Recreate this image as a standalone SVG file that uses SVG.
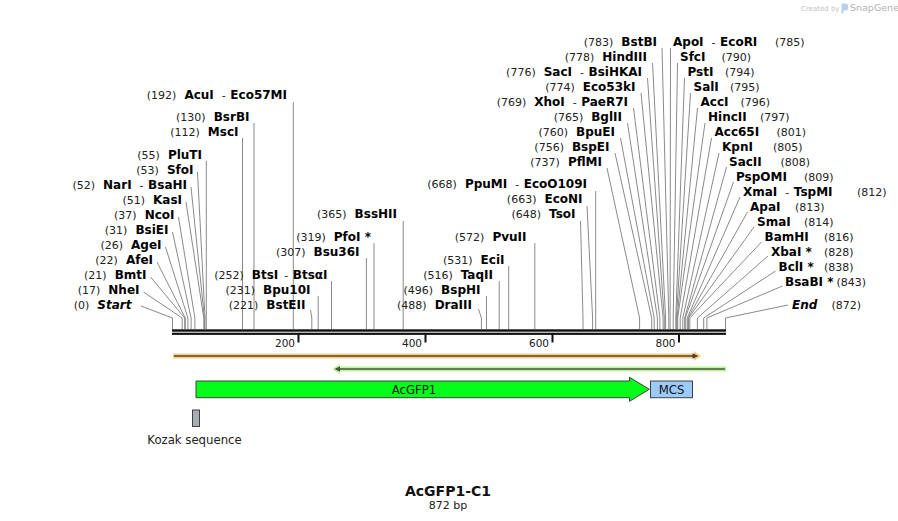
<svg xmlns="http://www.w3.org/2000/svg" width="898" height="521" viewBox="0 0 898 521">
<style>
text{font-family:"DejaVu Sans",Verdana,"Liberation Sans",sans-serif;}
.l{font-size:11px;fill:#222}
.b{font-size:12px;font-weight:bold;fill:#000}
.i{font-style:italic}
.e{text-anchor:end}
.ld{fill:none;stroke:#8a8a8a;stroke-width:1}
.tk{font-size:10.5px;fill:#222;text-anchor:end}
.ft{font-size:11.7px;fill:#111;text-anchor:middle}
.fs{stroke:#404040;stroke-width:1}
</style>
<rect width="898" height="521" fill="#fff"/>
<g id="logo">
<text x="801" y="10.5" style="font-size:7px;fill:#c4c4c4">Created by</text>
<path d="M841.5,3.5 h4 a2.5,2.5 0 0 1 2.5,2.5 v2 a2.5,2.5 0 0 1 -2.5,2.5 h-2 v3 h-2 z" fill="#b4d0ea"/>
<text x="850" y="11" style="font-size:9.5px;fill:#b0b0b0">SnapGene</text>
</g>
<g id="connectors">
<polyline class="ld" points="141,306 172.5,318 172.5,329"/>
<polyline class="ld" points="143.5,292 182.2,318 182.2,329"/>
<polyline class="ld" points="150.5,277 184.7,318 184.7,329"/>
<polyline class="ld" points="157,262 185.3,318 185.3,329"/>
<polyline class="ld" points="165.5,247 187.9,318 187.9,329"/>
<polyline class="ld" points="172.5,232 191.1,318 191.1,329"/>
<polyline class="ld" points="178.5,217 194.9,318 194.9,329"/>
<polyline class="ld" points="186,202 203.8,318 203.8,329"/>
<polyline class="ld" points="191,187 204.4,318 204.4,329"/>
<polyline class="ld" points="197.5,172 205,318 205,329"/>
<polyline class="ld" points="206.3,161 206.3,329"/>
<polyline class="ld" points="242.5,138 242.5,329"/>
<polyline class="ld" points="254,123 254,329"/>
<polyline class="ld" points="293.3,102 293.3,329"/>
<polyline class="ld" points="310.5,310 311.8,318 311.8,329"/>
<polyline class="ld" points="318.2,296 318.2,329"/>
<polyline class="ld" points="331.5,281 331.5,329"/>
<polyline class="ld" points="366.4,258 366.4,329"/>
<polyline class="ld" points="374,243 374,329"/>
<polyline class="ld" points="403.2,221 403.2,329"/>
<polyline class="ld" points="478.5,309 481.4,318 481.4,329"/>
<polyline class="ld" points="486.5,296 486.5,329"/>
<polyline class="ld" points="499.2,281 499.2,329"/>
<polyline class="ld" points="508.7,266 508.7,329"/>
<polyline class="ld" points="534.8,243 534.8,329"/>
<polyline class="ld" points="580.5,221 583,318 583,329"/>
<polyline class="ld" points="587,206 592.6,318 592.6,329"/>
<polyline class="ld" points="595.7,191 595.7,329"/>
<polyline class="ld" points="662,48 668.8,318 668.8,329"/>
<polyline class="ld" points="652.5,63 665.6,318 665.6,329"/>
<polyline class="ld" points="647.5,78 664.3,318 664.3,329"/>
<polyline class="ld" points="641,93 663.1,318 663.1,329"/>
<polyline class="ld" points="633.5,108 659.9,318 659.9,329"/>
<polyline class="ld" points="627.5,123 657.4,318 657.4,329"/>
<polyline class="ld" points="620.5,138 654.2,318 654.2,329"/>
<polyline class="ld" points="615,153 651.7,318 651.7,329"/>
<polyline class="ld" points="607,168 639.6,318 639.6,329"/>
<polyline class="ld" points="670.5,48 670.1,318 670.1,329"/>
<polyline class="ld" points="677.5,63 673.2,318 673.2,329"/>
<polyline class="ld" points="684.5,78 675.8,318 675.8,329"/>
<polyline class="ld" points="690.5,93 676.4,318 676.4,329"/>
<polyline class="ld" points="697.5,108 677.1,318 677.1,329"/>
<polyline class="ld" points="705,123 677.7,318 677.7,329"/>
<polyline class="ld" points="711.5,138 680.2,318 680.2,329"/>
<polyline class="ld" points="719,153 682.8,318 682.8,329"/>
<polyline class="ld" points="726.5,167 684.7,318 684.7,329"/>
<polyline class="ld" points="733.5,182 685.3,318 685.3,329"/>
<polyline class="ld" points="740,197 687.2,318 687.2,329"/>
<polyline class="ld" points="747.5,212 687.9,318 687.9,329"/>
<polyline class="ld" points="754,227 688.5,318 688.5,329"/>
<polyline class="ld" points="761.5,242 689.8,318 689.8,329"/>
<polyline class="ld" points="768,256 697.4,318 697.4,329"/>
<polyline class="ld" points="775.5,271 703.7,318 703.7,329"/>
<polyline class="ld" points="782.5,286 706.9,318 706.9,329"/>
<polyline class="ld" points="788,305 725.5,318 725.5,329"/>
</g>
<g id="backbone">
<rect x="172" y="329.3" width="554" height="2.4" fill="#111"/>
<rect x="172" y="332.7" width="554" height="2.2" fill="#111"/>
<rect x="297.5" y="334" width="2" height="8.5" fill="#111"/>
<rect x="424.5" y="334" width="2" height="8.5" fill="#111"/>
<rect x="551.5" y="334" width="2" height="8.5" fill="#111"/>
<rect x="678" y="334" width="2" height="8.5" fill="#111"/>
<text class="tk" x="295" y="346.5">200</text>
<text class="tk" x="422" y="346.5">400</text>
<text class="tk" x="549" y="346.5">600</text>
<text class="tk" x="675.5" y="346.5">800</text>
</g>
<g id="site-start"><text class="l e" x="131.5" y="309">(0)<tspan class="b i" dx="8">Start</tspan></text></g>
<g id="site-nhei"><text class="l e" x="139.5" y="294">(17)<tspan class="b" dx="8">NheI</tspan></text></g>
<g id="site-bmti"><text class="l e" x="146.5" y="279">(21)<tspan class="b" dx="8">BmtI</tspan></text></g>
<g id="site-afei"><text class="l e" x="153" y="264">(22)<tspan class="b" dx="8">AfeI</tspan></text></g>
<g id="site-agei"><text class="l e" x="161.5" y="249">(26)<tspan class="b" dx="8">AgeI</tspan></text></g>
<g id="site-bsiei"><text class="l e" x="168.5" y="234">(31)<tspan class="b" dx="8">BsiEI</tspan></text></g>
<g id="site-ncoi"><text class="l e" x="174.5" y="219">(37)<tspan class="b" dx="8">NcoI</tspan></text></g>
<g id="site-kasi"><text class="l e" x="182" y="204">(51)<tspan class="b" dx="8">KasI</tspan></text></g>
<g id="site-nari"><text class="l e" x="187" y="189">(52)<tspan class="b" dx="8">NarI</tspan><tspan dx="8">-</tspan><tspan class="b" dx="4.5">BsaHI</tspan></text></g>
<g id="site-sfoi"><text class="l e" x="193.5" y="174">(53)<tspan class="b" dx="8">SfoI</tspan></text></g>
<g id="site-pluti"><text class="l e" x="202" y="159">(55)<tspan class="b" dx="8">PluTI</tspan></text></g>
<g id="site-msci"><text class="l e" x="238.5" y="136">(112)<tspan class="b" dx="8">MscI</tspan></text></g>
<g id="site-bsrbi"><text class="l e" x="249.5" y="121">(130)<tspan class="b" dx="8">BsrBI</tspan></text></g>
<g id="site-acui"><text class="l e" x="287" y="99">(192)<tspan class="b" dx="8">AcuI</tspan><tspan dx="8">-</tspan><tspan class="b" dx="4.5">Eco57MI</tspan></text></g>
<g id="site-bsteii"><text class="l e" x="305.5" y="309">(221)<tspan class="b" dx="8">BstEII</tspan></text></g>
<g id="site-bpu10i"><text class="l e" x="310.5" y="294">(231)<tspan class="b" dx="8">Bpu10I</tspan></text></g>
<g id="site-btsi"><text class="l e" x="327.5" y="279">(252)<tspan class="b" dx="8">BtsI</tspan><tspan dx="6">-</tspan><tspan class="b" dx="4.5">BtsαI</tspan></text></g>
<g id="site-bsu36i"><text class="l e" x="359.5" y="256">(307)<tspan class="b" dx="8">Bsu36I</tspan></text></g>
<g id="site-pfoi"><text class="l e" x="371" y="241">(319)<tspan class="b" dx="8">PfoI *</tspan></text></g>
<g id="site-bsshii"><text class="l e" x="397" y="218">(365)<tspan class="b" dx="8">BssHII</tspan></text></g>
<g id="site-draiii"><text class="l e" x="472" y="309">(488)<tspan class="b" dx="8">DraIII</tspan></text></g>
<g id="site-bsphi"><text class="l e" x="480.5" y="294">(496)<tspan class="b" dx="8">BspHI</tspan></text></g>
<g id="site-taqii"><text class="l e" x="493" y="279">(516)<tspan class="b" dx="8">TaqII</tspan></text></g>
<g id="site-ecii"><text class="l e" x="504.5" y="264">(531)<tspan class="b" dx="8">EciI</tspan></text></g>
<g id="site-pvuii"><text class="l e" x="526.5" y="241">(572)<tspan class="b" dx="8">PvuII</tspan></text></g>
<g id="site-tsoi"><text class="l e" x="575.5" y="218">(648)<tspan class="b" dx="8">TsoI</tspan></text></g>
<g id="site-econi"><text class="l e" x="582.5" y="203">(663)<tspan class="b" dx="8">EcoNI</tspan></text></g>
<g id="site-ppumi"><text class="l e" x="587" y="188">(668)<tspan class="b" dx="8">PpuMI</tspan><tspan dx="8">-</tspan><tspan class="b" dx="4.5">EcoO109I</tspan></text></g>
<g id="site-bstbi"><text class="l e" x="657" y="46">(783)<tspan class="b" dx="8">BstBI</tspan></text></g>
<g id="site-hindiii"><text class="l e" x="647" y="61">(778)<tspan class="b" dx="8">HindIII</tspan></text></g>
<g id="site-saci"><text class="l e" x="642" y="76">(776)<tspan class="b" dx="8">SacI</tspan><tspan dx="8">-</tspan><tspan class="b" dx="4.5">BsiHKAI</tspan></text></g>
<g id="site-eco53ki"><text class="l e" x="635.5" y="91">(774)<tspan class="b" dx="8">Eco53kI</tspan></text></g>
<g id="site-xhoi"><text class="l e" x="628" y="106">(769)<tspan class="b" dx="8">XhoI</tspan><tspan dx="8">-</tspan><tspan class="b" dx="4.5">PaeR7I</tspan></text></g>
<g id="site-bglii"><text class="l e" x="622" y="121">(765)<tspan class="b" dx="8">BglII</tspan></text></g>
<g id="site-bpuei"><text class="l e" x="615" y="136">(760)<tspan class="b" dx="8">BpuEI</tspan></text></g>
<g id="site-bspei"><text class="l e" x="609.5" y="151">(756)<tspan class="b" dx="8">BspEI</tspan></text></g>
<g id="site-pflmi"><text class="l e" x="602" y="166">(737)<tspan class="b" dx="8">PflMI</tspan></text></g>
<g id="site-apoi"><text class="l" x="673" y="46"><tspan class="b">ApoI</tspan><tspan dx="8">-</tspan><tspan class="b" dx="4.5">EcoRI</tspan><tspan x="775">(785)</tspan></text></g>
<g id="site-sfci"><text class="l" x="680" y="61"><tspan class="b">SfcI</tspan><tspan x="721.5">(790)</tspan></text></g>
<g id="site-psti"><text class="l" x="687.5" y="76"><tspan class="b">PstI</tspan><tspan x="725">(794)</tspan></text></g>
<g id="site-sali"><text class="l" x="693.5" y="91"><tspan class="b">SalI</tspan><tspan x="730">(795)</tspan></text></g>
<g id="site-acci"><text class="l" x="700.5" y="106"><tspan class="b">AccI</tspan><tspan x="740.5">(796)</tspan></text></g>
<g id="site-hincii"><text class="l" x="708" y="121"><tspan class="b">HincII</tspan><tspan x="760">(797)</tspan></text></g>
<g id="site-acc65i"><text class="l" x="714.5" y="136"><tspan class="b">Acc65I</tspan><tspan x="776.5">(801)</tspan></text></g>
<g id="site-kpni"><text class="l" x="722" y="151"><tspan class="b">KpnI</tspan><tspan x="773">(805)</tspan></text></g>
<g id="site-sacii"><text class="l" x="729" y="166"><tspan class="b">SacII</tspan><tspan x="780.5">(808)</tspan></text></g>
<g id="site-pspomi"><text class="l" x="736" y="181"><tspan class="b">PspOMI</tspan><tspan x="804">(809)</tspan></text></g>
<g id="site-xmai"><text class="l" x="743" y="196"><tspan class="b">XmaI</tspan><tspan dx="8">-</tspan><tspan class="b" dx="4.5">TspMI</tspan><tspan x="857">(812)</tspan></text></g>
<g id="site-apai"><text class="l" x="750" y="211"><tspan class="b">ApaI</tspan><tspan x="795">(813)</tspan></text></g>
<g id="site-smai"><text class="l" x="757" y="226"><tspan class="b">SmaI</tspan><tspan x="804">(814)</tspan></text></g>
<g id="site-bamhi"><text class="l" x="764.5" y="241"><tspan class="b">BamHI</tspan><tspan x="824">(816)</tspan></text></g>
<g id="site-xbai"><text class="l" x="771" y="256"><tspan class="b">XbaI *</tspan><tspan x="824">(828)</tspan></text></g>
<g id="site-bcli"><text class="l" x="778.5" y="271"><tspan class="b">BclI *</tspan><tspan x="824">(838)</tspan></text></g>
<g id="site-bsabi"><text class="l" x="785" y="286"><tspan class="b">BsaBI *</tspan><tspan x="836.5">(843)</tspan></text></g>
<g id="site-end"><text class="l" x="792" y="309"><tspan class="b i">End</tspan><tspan x="831.5">(872)</tspan></text></g>
<g id="feature-orange">
<rect x="173" y="353.5" width="522" height="5" fill="#fccf84"/>
<polygon points="694,351 701,356 694,361" fill="#fccf84"/>
<line x1="174" y1="356" x2="694" y2="356" stroke="#4a4436" stroke-width="1.6"/>
<polygon points="692.5,353.2 698.5,356 692.5,358.8" fill="#4a4436"/>
</g>
<g id="feature-green">
<rect x="337" y="366.5" width="389" height="5" fill="#c2f29c"/>
<polygon points="339.5,364 332.5,369 339.5,374" fill="#c2f29c"/>
<line x1="338" y1="369" x2="725" y2="369" stroke="#46563f" stroke-width="1.6"/>
<polygon points="340,366.2 334.5,369 340,371.8" fill="#46563f"/>
</g>
<g id="feature-acgfp1">
<polygon class="fs" points="196,381 629.5,381 629.5,377.3 649.3,389.3 629.5,401.3 629.5,397.7 196,397.7" fill="#05fd1a"/>
<text class="ft" x="414" y="393.5">AcGFP1</text>
</g>
<g id="feature-mcs">
<rect class="fs" x="650.5" y="381" width="42" height="16.7" fill="#9ccbfb"/>
<text class="ft" x="671.5" y="393.5">MCS</text>
</g>
<g id="feature-kozak">
<rect class="fs" x="192.5" y="410" width="7" height="16.5" fill="#a8adb4"/>
<text class="ft" x="194.5" y="443.5" style="fill:#222">Kozak sequence</text>
</g>
<g id="title">
<text x="448" y="495.5" style="font-size:14px;font-weight:bold;fill:#111;text-anchor:middle">AcGFP1-C1</text>
<text x="448" y="508.5" style="font-size:11px;fill:#222;text-anchor:middle">872 bp</text>
</g>
</svg>
